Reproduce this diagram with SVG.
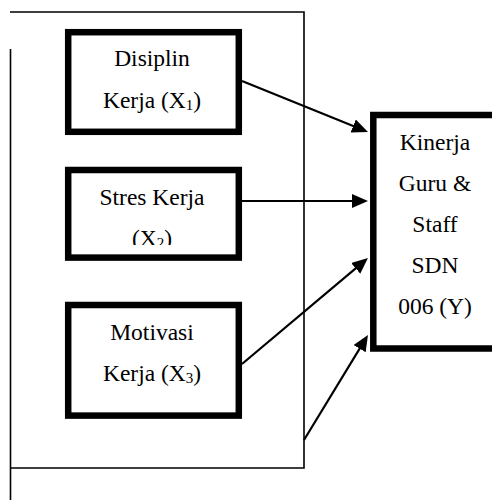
<svg xmlns="http://www.w3.org/2000/svg" width="492" height="500" viewBox="0 0 492 500">
  <style>
    .frame { fill: none; stroke: #000; stroke-width: 1.6; }
    .box { fill: #fff; stroke: #000; stroke-width: 6.5; }
    .lbl { font-family: "Liberation Serif", "Times New Roman", serif; font-size: 23.5px; fill: #000; text-anchor: middle; }
    .sub { font-size: 15px; }
    .conn { stroke: #000; stroke-width: 2.2; fill: none; marker-end: url(#arrow); }
  </style>
  <defs>
    <marker id="arrow" markerUnits="userSpaceOnUse" markerWidth="17" markerHeight="15" refX="12" refY="7" orient="auto">
      <path d="M0,0 L16,7 L0,14 z" fill="#000"/>
    </marker>
    <clipPath id="clip2">
      <rect x="70" y="170" width="166" height="75"/>
    </clipPath>
  </defs>
  <rect width="492" height="500" fill="#fff"/>

  <g id="frame">
    <polyline class="frame" points="10,12 304,12 304,468 10,468"/>
    <line class="frame" x1="10.5" y1="49" x2="10.5" y2="500"/>
  </g>

  <g id="connectors">
    <line class="conn" x1="242" y1="81" x2="364.3" y2="130.5"/>
    <line class="conn" x1="242" y1="201" x2="364" y2="201"/>
    <line class="conn" x1="242" y1="364" x2="364.9" y2="260.6"/>
    <line class="conn" x1="304" y1="440" x2="365.9" y2="338.4"/>
  </g>

  <g id="x1">
    <rect class="box" x="68.2" y="32.2" width="170.6" height="99.6"/>
    <text class="lbl" x="152" y="66">Disiplin</text>
    <text class="lbl" x="152" y="108">Kerja (X<tspan class="sub" dy="2">1</tspan><tspan dy="-2">)</tspan></text>
  </g>

  <g id="x2">
    <rect class="box" x="68.2" y="170" width="170.6" height="87.6"/>
    <g clip-path="url(#clip2)">
      <text class="lbl" x="152" y="205">Stres Kerja</text>
      <text class="lbl" x="152" y="246">(X<tspan class="sub" dy="2">2</tspan><tspan dy="-2">)</tspan></text>
    </g>
  </g>

  <g id="x3">
    <rect class="box" x="68.2" y="305" width="170.6" height="110.6"/>
    <text class="lbl" x="152" y="340">Motivasi</text>
    <text class="lbl" x="152" y="381">Kerja (X<tspan class="sub" dy="2">3</tspan><tspan dy="-2">)</tspan></text>
  </g>

  <g id="y">
    <rect class="box" x="373.3" y="115" width="130" height="233.5"/>
    <text class="lbl" x="435" y="150">Kinerja</text>
    <text class="lbl" x="435" y="191">Guru &amp;</text>
    <text class="lbl" x="435" y="232">Staff</text>
    <text class="lbl" x="435" y="273">SDN</text>
    <text class="lbl" x="435" y="314">006 (Y)</text>
  </g>
</svg>
